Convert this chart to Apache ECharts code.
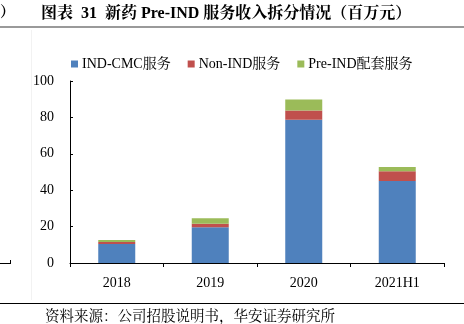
<!DOCTYPE html>
<html><head><meta charset="utf-8">
<script src="https://cdn.jsdelivr.net/npm/echarts@6/dist/echarts.min.js"></script>
<style>html,body{margin:0;padding:0;background:#fff}#c{width:464px;height:324px}</style>
</head><body><div id="c"></div>
<script>
var categories = ['2018', '2019', '2020', '2021H1'];
var indCmc = [10.4, 19.7, 78.7, 45.1];
var nonInd = [1.1, 1.8, 5.1, 5.3];
var preInd = [1.1, 3.1, 6.0, 2.4];
var seriesNames = ['IND-CMC服务', 'Non-IND服务', 'Pre-IND配套服务'];
var yTicks = [0, 20, 40, 60, 80, 100];

var serif = '"Liberation Serif","Times New Roman","Noto Serif CJK SC","Noto Sans CJK SC",serif';
var chart = echarts.init(document.getElementById('c'), null, {renderer: 'canvas'});
chart.setOption({
  animation: false,
  backgroundColor: '#fff',
  grid: {left: 70, right: 20, top: 81, bottom: 61, containLabel: false},
  legend: {
    left: 66, top: 52, itemWidth: 7, itemHeight: 7, itemGap: 17,
    icon: 'rect',
    textStyle: {fontFamily: serif, fontSize: 14, color: '#000', padding: [0, 0, 0, -1]},
    data: seriesNames
  },
  xAxis: {
    type: 'category', data: categories,
    axisLine: {lineStyle: {color: '#000', width: 1}},
    axisTick: {show: true, length: 4, inside: false, lineStyle: {color: '#000'}},
    axisLabel: {fontFamily: serif, fontSize: 14, color: '#000', margin: 13}
  },
  yAxis: {
    type: 'value', min: yTicks[0], max: yTicks[yTicks.length - 1], interval: 20,
    splitLine: {show: false},
    axisLine: {show: true, lineStyle: {color: '#000', width: 1}},
    axisTick: {show: true, inside: true, length: 3, lineStyle: {color: '#000'}},
    axisLabel: {fontFamily: serif, fontSize: 14, color: '#000', margin: 16}
  },
  series: [
    {name: seriesNames[0], type: 'bar', stack: 's', data: indCmc, barWidth: 37, itemStyle: {color: '#4F81BD'}},
    {name: seriesNames[1], type: 'bar', stack: 's', data: nonInd, barWidth: 37, itemStyle: {color: '#C0504D'}},
    {name: seriesNames[2], type: 'bar', stack: 's', data: preInd, barWidth: 37, itemStyle: {color: '#9BBB59'}}
  ],
  graphic: [
    {type: 'text', left: 41, top: 6, style: {text: '图表  31  新药 Pre-IND 服务收入拆分情况（百万元）', font: 'bold 16px ' + serif, fill: '#000'}},
    {type: 'text', left: 0, top: 6, style: {text: '）', font: 'bold 15px ' + serif, fill: '#000'}},
    {type: 'rect', shape: {x: 0, y: 26, width: 464, height: 2}, style: {fill: '#9a9a9a'}},
    {type: 'line', shape: {x1: 0, y1: 303.5, x2: 464, y2: 303.5}, style: {stroke: '#000', lineWidth: 1}},
    {type: 'text', left: 45, top: 310, style: {text: '资料来源：公司招股说明书，华安证券研究所', font: '14.5px ' + serif, fill: '#000'}},
    {type: 'line', shape: {x1: 0, y1: 263.5, x2: 10.5, y2: 263.5}, style: {stroke: '#000', lineWidth: 1}},
    {type: 'line', shape: {x1: 10.5, y1: 260, x2: 10.5, y2: 264}, style: {stroke: '#000', lineWidth: 1}},
    {type: 'line', shape: {x1: 31.5, y1: 30, x2: 31.5, y2: 300}, style: {stroke: '#f2f2f2', lineWidth: 1}}
  ]
});
</script></body></html>
